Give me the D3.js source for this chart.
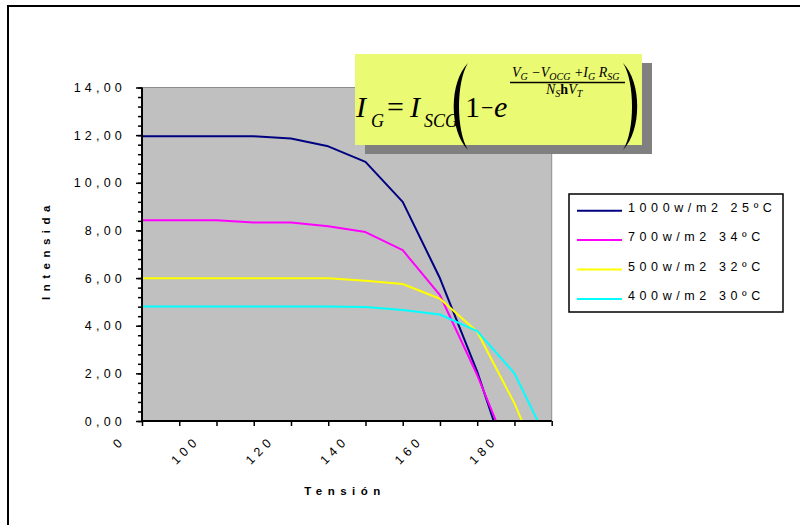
<!DOCTYPE html>
<html>
<head>
<meta charset="utf-8">
<script src="https://cdn.jsdelivr.net/npm/d3@7"></script>
<style>
  body { margin: 0; background: #fff; }
  svg { display: block; }
</style>
</head>
<body>
<div id="chart"></div>
<script>
// Data
const categories = ['0', '90', '100', '110', '120', '130', '140', '150', '160', '170', '180', '190']
const seriesNames = ['1000w/m2 25ºC', '700w/m2 34ºC', '500w/m2 32ºC', '400w/m2 30ºC']
const seriesColors = ['#000080', '#ff00ff', '#ffff00', '#00ffff']
const irr1000 = [11.95, 11.95, 11.95, 11.95, 11.86, 11.53, 10.88, 9.2, 5.99, 2.07, -2.6, null]
const irr700 = [8.43, 8.43, 8.43, 8.33, 8.33, 8.18, 7.93, 7.17, 5.28, 1.93, -1.9, null]
const irr500 = [5.99, 5.99, 5.99, 5.99, 5.99, 5.99, 5.89, 5.75, 5.13, 3.75, 0.74, -2.9]
const irr400 = [4.81, 4.81, 4.81, 4.81, 4.81, 4.81, 4.79, 4.66, 4.47, 3.77, 2.0, -1.2]
const yTicks = [0, 2, 4, 6, 8, 10, 12, 14]

const series = [irr1000, irr700, irr500, irr400].map((values, i) => ({
  name: seriesNames[i],
  color: seriesColors[i],
  values
}))

// Dimensions
const dimensions = {
  width: 800,
  height: 525,
  margins: { top: 87.5, left: 142, right: 248.3, bottom: 104 }
}
dimensions.ctrWidth = dimensions.width - dimensions.margins.left - dimensions.margins.right
dimensions.ctrHeight = dimensions.height - dimensions.margins.top - dimensions.margins.bottom

const sans = '"Liberation Sans", Arial, sans-serif'
const serif = '"Liberation Serif", "Times New Roman", serif'

const svg = d3.select('#chart')
  .append('svg')
  .attr('width', dimensions.width)
  .attr('height', dimensions.height)

// chart area frame
svg.append('rect')
  .attr('x', 8).attr('y', 6)
  .attr('width', 820).attr('height', 540)
  .attr('fill', '#fff')
  .attr('stroke', '#000')
  .attr('stroke-width', 2)

const ctr = svg.append('g')
  .attr('transform', `translate(${dimensions.margins.left}, ${dimensions.margins.top})`)

// Scales
const xScale = d3.scalePoint()
  .domain(categories)
  .range([0, dimensions.ctrWidth])

const yScale = d3.scaleLinear()
  .domain([0, 14])
  .range([dimensions.ctrHeight, 0])

// plot area
ctr.append('rect')
  .attr('width', dimensions.ctrWidth)
  .attr('height', dimensions.ctrHeight)
  .attr('fill', '#c0c0c0')
  .attr('stroke', '#8c8c8c')
  .attr('stroke-width', 1)

svg.append('clipPath').attr('id', 'plotClip')
  .append('rect')
  .attr('width', dimensions.ctrWidth)
  .attr('height', dimensions.ctrHeight)

// Lines
const line = d3.line()
  .defined(d => d != null)
  .x((d, i) => xScale(categories[i]))
  .y(d => yScale(d))

ctr.append('g')
  .attr('clip-path', 'url(#plotClip)')
  .selectAll('path')
  .data(series)
  .join('path')
  .attr('d', d => line(d.values))
  .attr('fill', 'none')
  .attr('stroke', d => d.color)
  .attr('stroke-width', 2)
  .attr('stroke-linejoin', 'round')

// Axes
const fmt = d3.formatLocale({ decimal: ',', thousands: '.', grouping: [3], currency: ['', '€'] }).format('.2f')

const yMinor = d3.axisLeft(yScale)
  .tickValues(d3.range(0, 14.01, 0.4))
  .tickSize(4)
  .tickFormat('')
ctr.append('g').call(yMinor)
  .call(g => g.select('.domain').remove())
  .selectAll('line').attr('stroke', '#000').attr('stroke-width', 1.5)

const yAxis = d3.axisLeft(yScale)
  .tickValues(yTicks)
  .tickSize(6)
  .tickFormat(fmt)
const yAxisGroup = ctr.append('g').call(yAxis)
yAxisGroup.select('.domain').attr('stroke-width', 2).attr('d', `M0,0V${dimensions.ctrHeight}`)
yAxisGroup.selectAll('line').attr('stroke-width', 1.5)
yAxisGroup.selectAll('text')
  .attr('x', -16)
  .attr('font-family', sans)
  .attr('font-size', 12.5)
  .attr('letter-spacing', 4.2)
  .attr('fill', '#000')

const xAxis = d3.axisBottom(xScale)
  .tickSize(5)
  .tickFormat('')
const xAxisGroup = ctr.append('g')
  .attr('transform', `translate(0, ${dimensions.ctrHeight})`)
  .call(xAxis)
xAxisGroup.select('.domain').attr('stroke-width', 2).attr('d', `M0,0H${dimensions.ctrWidth}`)
xAxisGroup.selectAll('line').attr('stroke-width', 1.5)

ctr.append('g')
  .selectAll('text')
  .data(categories.filter((c, i) => i % 2 === 0))
  .join('text')
  .attr('transform', d => `translate(${xScale(d) - 16}, ${dimensions.ctrHeight + 20}) rotate(-45)`)
  .attr('text-anchor', 'end')
  .attr('font-family', sans)
  .attr('font-size', 12.5)
  .attr('letter-spacing', 4.5)
  .text(d => d)

// Axis titles
svg.append('clipPath').attr('id', 'yTitleClip')
  .append('rect').attr('x', 0).attr('y', 204).attr('width', 120).attr('height', 300)

svg.append('g')
  .attr('clip-path', 'url(#yTitleClip)')
  .append('text')
  .attr('transform', 'translate(49.5, 300) rotate(-90)')
  .attr('font-family', sans)
  .attr('font-weight', 'bold')
  .attr('font-size', 11.5)
  .attr('letter-spacing', 5.5)
  .text('Intensidad')

svg.append('text')
  .attr('x', 345)
  .attr('y', 495)
  .attr('text-anchor', 'middle')
  .attr('font-family', sans)
  .attr('font-weight', 'bold')
  .attr('font-size', 11.5)
  .attr('letter-spacing', 5.5)
  .text('Tensión')

// Legend
const legend = svg.append('g')
legend.append('rect')
  .attr('x', 569).attr('y', 194)
  .attr('width', 214).attr('height', 118)
  .attr('fill', '#fff')
  .attr('stroke', '#000')
  .attr('stroke-width', 1.5)

const items = legend.selectAll('g.item')
  .data(series)
  .join('g')
  .attr('class', 'item')
  .attr('transform', (d, i) => `translate(0, ${211.7 + i * 29.4})`)
items.append('line')
  .attr('x1', 577).attr('x2', 622)
  .attr('y1', -1).attr('y2', -1)
  .attr('stroke', d => d.color)
  .attr('stroke-width', 2)
items.append('text')
  .attr('x', 628)
  .attr('font-family', sans)
  .attr('font-size', 12.5)
  .attr('letter-spacing', 4.6)
  .text(d => d.name)

// Equation box
const eq = svg.append('g')
eq.append('rect')
  .attr('x', 365).attr('y', 63).attr('width', 287).attr('height', 91)
  .attr('fill', '#808080')
eq.append('rect')
  .attr('x', 355).attr('y', 54).attr('width', 287).attr('height', 91)
  .attr('fill', '#ebfa73')

const eqText = (x, y, size, txt, opts = {}) => eq.append('text')
  .attr('x', x).attr('y', y)
  .attr('font-family', serif)
  .attr('font-size', size)
  .attr('font-style', opts.upright ? 'normal' : 'italic')
  .attr('font-weight', opts.bold ? 'bold' : 'normal')
  .attr('text-anchor', opts.anchor || 'start')
  .text(txt)

eqText(356, 117, 30, 'I')
eqText(371, 127, 18, 'G')
eqText(387, 117, 30, '=', { upright: true })
eqText(410, 117, 30, 'I')
eqText(424, 127, 18, 'SCG')
eqText(465, 117, 30, '1', { upright: true })
eqText(481, 115, 22, '−', { upright: true })
eqText(494, 117, 30, 'e')

// big parentheses
eq.append('path')
  .attr('d', 'M468,63 C449,82 449,131 468,150 C456,131 456,82 468,63 Z')
  .attr('fill', '#000')
eq.append('path')
  .attr('d', 'M623,63 C642,82 642,131 623,150 C635,131 635,82 623,63 Z')
  .attr('fill', '#000')

// exponent fraction
const num = eq.append('text')
  .attr('x', 512).attr('y', 77)
  .attr('font-family', serif)
  .attr('font-style', 'italic')
  .attr('font-size', 14)
const parts = [['V', 'G'], [' −V', 'OCG'], [' +I', 'G'], [' R', 'SG']]
parts.forEach(([m, s], i) => {
  num.append('tspan').attr('dy', i === 0 ? 0 : -3).text(m)
  num.append('tspan').attr('font-size', 10).attr('dy', 3).text(s)
})

eq.append('line')
  .attr('x1', 510).attr('x2', 625)
  .attr('y1', 82.5).attr('y2', 82.5)
  .attr('stroke', '#000').attr('stroke-width', 1.3)

const den = eq.append('text')
  .attr('x', 546).attr('y', 94)
  .attr('font-family', serif)
  .attr('font-style', 'italic')
  .attr('font-size', 14)
den.append('tspan').text('N')
den.append('tspan').attr('font-size', 10).attr('dy', 3).text('S')
den.append('tspan').attr('dy', -3).attr('font-style', 'normal').attr('font-weight', 'bold').text('h')
den.append('tspan').text('V')
den.append('tspan').attr('font-size', 10).attr('dy', 3).text('T')
</script>
</body>
</html>
